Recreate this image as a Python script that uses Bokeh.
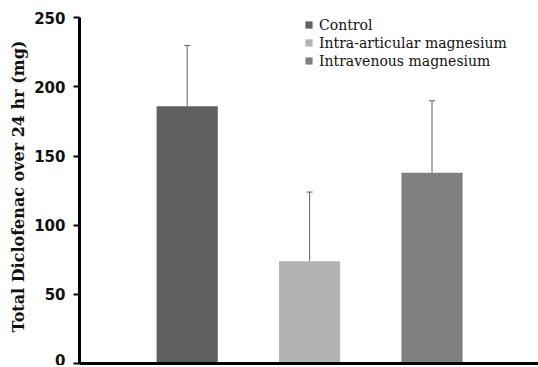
from bokeh.plotting import figure
from bokeh.models import ColumnDataSource, Range1d, FixedTicker, Whisker, TeeHead, Legend, LegendItem
from bokeh.embed import file_html
from bokeh.resources import INLINE

categories = ["Control", "Intra-articular magnesium", "Intravenous magnesium"]
means = [186, 74, 138]
errors = [44, 50, 52]
colors = ["#606060", "#b3b3b3", "#808080"]
y_ticks = [0, 50, 100, 150, 200, 250]

xs = [i + 1 for i in range(len(categories))]
src = ColumnDataSource(dict(
    x=xs, top=means, cat=categories, color=colors,
    upper=[m + e for m, e in zip(means, errors)],
))

p = figure(width=538, height=365, output_backend="svg", toolbar_location=None,
           x_range=Range1d(0.12, 3.87), y_range=Range1d(0, 256),
           min_border_left=79, min_border_right=0, min_border_top=9, min_border_bottom=2)
p.outline_line_color = None
p.xgrid.visible = False
p.ygrid.visible = False
p.background_fill_color = "white"
p.border_fill_color = "white"

r = p.vbar(x="x", top="top", width=0.5, bottom=0, source=src, fill_color="color", line_color=None)

w = Whisker(base="x", lower="top", upper="upper", source=src, dimension="height",
            line_color="#606060", line_width=1,
            lower_head=None, upper_head=TeeHead(size=6, line_color="#606060", line_width=1))
p.add_layout(w)

p.yaxis.ticker = FixedTicker(ticks=y_ticks)
p.yaxis.bounds = (y_ticks[0], y_ticks[-1])
p.yaxis.minor_tick_line_color = None
p.yaxis.major_tick_out = 6
p.yaxis.major_tick_in = 0
p.yaxis.major_tick_line_width = 2
p.yaxis.axis_line_width = 3
p.yaxis.axis_line_color = "black"
p.yaxis.major_tick_line_color = "black"
p.yaxis.major_label_text_font = "DejaVu Sans"
p.yaxis.major_label_text_font_style = "bold"
p.yaxis.major_label_text_font_size = "15px"
p.yaxis.major_label_text_color = "#111111"
p.yaxis.major_label_standoff = 8
p.yaxis.axis_label = "Total Diclofenac over 24 hr (mg)"
p.yaxis.axis_label_text_font = "DejaVu Serif"
p.yaxis.axis_label_text_font_style = "bold"
p.yaxis.axis_label_text_font_size = "16px"
p.yaxis.axis_label_text_color = "#111111"
p.yaxis.axis_label_standoff = 3

p.xaxis.ticker = FixedTicker(ticks=[])
p.xaxis.major_tick_line_color = None
p.xaxis.minor_tick_line_color = None
p.xaxis.major_label_text_font_size = "0px"
p.xaxis.axis_line_width = 3
p.xaxis.axis_line_color = "black"

items = [LegendItem(label=c, renderers=[r], index=i) for i, c in enumerate(categories)]
legend = Legend(items=items, location=(225, 294), padding=0, margin=0,
                border_line_color=None, background_fill_alpha=0,
                glyph_width=9, glyph_height=9, label_height=17, spacing=1,
                label_standoff=6, label_text_font="DejaVu Serif",
                label_text_font_size="14px", label_text_color="#111111")
p.add_layout(legend)

open("out.html", "w").write(file_html(p, INLINE))
